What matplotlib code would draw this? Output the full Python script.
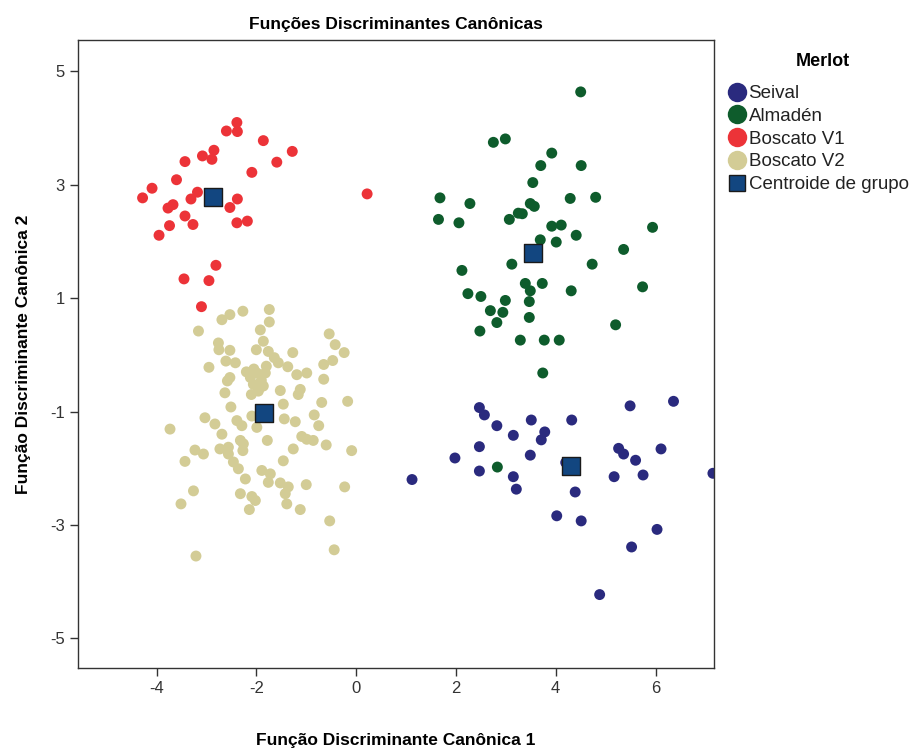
import matplotlib.pyplot as plt
from matplotlib.lines import Line2D

plt.rcParams['font.family'] = ['Liberation Sans', 'DejaVu Sans']
plt.rcParams['axes.unicode_minus'] = False

# Scores on the two canonical discriminant functions, per group
seival_x = [2.47, 2.57, 2.82, 3.51, 4.32, 3.15, 3.78, 3.71, 2.47, 1.98, 3.49, 2.47, 3.15, 3.21, 1.12,
            4.39, 4.02, 4.51, 5.49, 6.36, 5.26, 5.36, 5.60, 6.11, 5.17, 5.75, 6.03, 5.52, 4.88, 7.15, 4.20]
seival_y = [-0.93, -1.06, -1.25, -1.15, -1.15, -1.42, -1.36, -1.50, -1.62, -1.82, -1.77, -2.05, -2.15, -2.37, -2.20,
            -2.42, -2.84, -2.93, -0.90, -0.82, -1.65, -1.75, -1.86, -1.66, -2.15, -2.12, -3.08, -3.39, -4.23, -2.09, -1.90]

almaden_x = [4.50, 2.75, 2.99, 3.92, 3.70, 4.51, 3.54, 1.68, 2.28, 4.29, 4.80, 3.49, 3.57, 3.25, 3.33, 3.07,
             1.65, 2.06, 3.92, 4.11, 5.94, 3.69, 4.01, 4.41, 5.36, 3.12, 4.73, 2.12, 3.39, 3.73, 3.49, 4.31,
             5.74, 2.24, 2.50, 2.99, 3.47, 2.69, 2.94, 2.82, 3.47, 5.20, 2.48, 3.29, 3.77, 4.07, 3.74, 2.83]
almaden_y = [4.64, 3.75, 3.81, 3.56, 3.34, 3.34, 3.04, 2.77, 2.67, 2.76, 2.78, 2.67, 2.62, 2.50, 2.49, 2.39,
             2.39, 2.33, 2.27, 2.29, 2.25, 2.03, 1.99, 2.11, 1.86, 1.60, 1.60, 1.49, 1.26, 1.26, 1.13, 1.13,
             1.20, 1.08, 1.03, 0.96, 0.94, 0.78, 0.75, 0.57, 0.66, 0.53, 0.42, 0.26, 0.26, 0.26, -0.32, -1.98]

v1_x = [-2.39, -2.60, -2.38, -1.86, -1.28, -2.85, -3.08, -2.89, -3.43, -1.59, -2.09, -3.60, -4.09, -4.28,
        -3.18, -3.31, -2.38, -2.53, -3.67, -3.77, -3.43, -3.27, -3.74, -2.39, -2.18, -3.95, -2.81, -3.45,
        -2.95, -3.10, 0.22]
v1_y = [4.10, 3.95, 3.94, 3.78, 3.59, 3.61, 3.51, 3.45, 3.41, 3.40, 3.22, 3.09, 2.94, 2.77,
        2.87, 2.75, 2.75, 2.60, 2.65, 2.59, 2.45, 2.30, 2.28, 2.33, 2.36, 2.11, 1.58, 1.34,
        1.31, 0.85, 2.84]

v2_x = [-2.69, -2.53, -2.27, -1.74, -1.74, -1.92, -3.16, -0.54, -0.42, -0.24, -2.76, -2.75, -2.53, -1.86,
        -2.00, -1.76, -1.64, -1.27, -1.56, -1.37, -1.19, -0.99, -0.65, -0.47, -2.95, -2.61, -2.42, -2.53,
        -2.58, -2.12, -1.99, -1.82, -2.06, -1.86, -1.96, -1.52, -1.12, -1.16, -0.65, -2.63, -2.51, -0.69,
        -0.17, -3.03, -2.83, -2.69, -2.39, -2.29, -2.09, -1.99, -1.46, -1.44, -1.22, -0.84, -0.75, -3.73,
        -3.23, -3.06, -2.73, -2.56, -2.56, -2.32, -2.26, -2.27, -1.78, -1.26, -1.09, -0.99, -0.86, -0.60,
        -0.09, -3.43, -2.46, -2.36, -2.22, -1.89, -1.72, -1.76, -1.52, -1.46, -1.36, -1.42, -1.39, -1.00,
        -0.23, -3.26, -3.51, -2.32, -2.09, -2.02, -2.14, -1.12, -0.53, -0.44, -3.21,
        -2.05, -1.90, -2.20, -1.95, -1.80, -2.10]
v2_y = [0.62, 0.71, 0.77, 0.80, 0.58, 0.44, 0.42, 0.37, 0.18, 0.04, 0.21, 0.09, 0.08, 0.24,
        0.09, 0.06, -0.05, 0.04, -0.14, -0.21, -0.35, -0.32, -0.17, -0.10, -0.22, -0.11, -0.14, -0.40,
        -0.46, -0.40, -0.32, -0.32, -0.52, -0.55, -0.64, -0.63, -0.61, -0.70, -0.43, -0.67, -0.92, -0.84,
        -0.82, -1.11, -1.22, -1.40, -1.16, -1.25, -1.08, -1.28, -0.87, -1.13, -1.18, -1.06, -1.25, -1.31,
        -1.68, -1.75, -1.66, -1.63, -1.75, -1.51, -1.57, -1.69, -1.51, -1.66, -1.44, -1.49, -1.51, -1.59,
        -1.69, -1.88, -1.89, -2.01, -2.19, -2.04, -2.10, -2.25, -2.26, -1.87, -2.33, -2.45, -2.63, -2.29,
        -2.33, -2.40, -2.63, -2.45, -2.50, -2.57, -2.73, -2.73, -2.93, -3.44, -3.55,
        -0.25, -0.45, -0.30, -0.60, -0.20, -0.70]

centroid_x = [4.30, 3.54, -2.86, -1.84]
centroid_y = [-1.96, 1.80, 2.78, -1.03]

groups = ['Seival', 'Almadén', 'Boscato V1', 'Boscato V2']
colors = ['#2a2a7e', '#0e5c2c', '#ec3338', '#d3cc96']
centroid_color = '#124680'

fig = plt.figure(figsize=(9.2, 7.5), dpi=100)
ax = fig.add_axes([0.085, 0.109, 0.691, 0.838])

series = [(seival_x, seival_y), (almaden_x, almaden_y), (v1_x, v1_y), (v2_x, v2_y)]
for (xs, ys), c in zip(series, colors):
    ax.scatter(xs, ys, s=62, color=c, edgecolors='none', zorder=2)
ax.scatter(centroid_x, centroid_y, s=150, marker='s', color=centroid_color,
           edgecolors='#1a1a1a', linewidths=1, zorder=3)

ax.set_xlim(-5.57, 7.17)
ax.set_ylim(-5.53, 5.56)
ax.set_xticks([-4, -2, 0, 2, 4, 6])
ax.set_yticks([5, 3, 1, -1, -3, -5])
ax.tick_params(direction='out', length=6, width=1, color='#333333',
               labelsize=12, labelcolor='#333333', top=False, right=False)
for sp in ax.spines.values():
    sp.set_color('#333333')
    sp.set_linewidth(1)

ax.set_title('Funções Discriminantes Canônicas', fontsize=12.5, fontweight='bold', pad=8)
ax.set_xlabel('Função Discriminante Canônica 1', fontsize=12.5, fontweight='bold', labelpad=26)
ax.set_ylabel('Função Discriminante Canônica 2', fontsize=12.5, fontweight='bold', labelpad=14)

# legend outside the plot area on the right, title drawn separately
fig.text(0.894, 1 - 62 / 750, 'Merlot', fontsize=13, fontweight='bold', ha='center', va='center')
handles = [Line2D([], [], marker='o', linestyle='none', markersize=14,
                  markerfacecolor=c, markeredgecolor='none') for c in colors]
handles.append(Line2D([], [], marker='s', linestyle='none', markersize=12,
                      markerfacecolor=centroid_color, markeredgecolor='#1a1a1a'))
leg = fig.legend(handles, groups + ['Centroide de grupo'],
                 loc='upper left', bbox_to_anchor=(0.776, 1 - 72 / 750), frameon=False,
                 fontsize=13.5, handletextpad=0.05, labelspacing=0.3, handlelength=1.1,
                 borderpad=0.2)
for t in leg.get_texts():
    t.set_color('#222222')

fig.savefig('out.png', dpi=100)
